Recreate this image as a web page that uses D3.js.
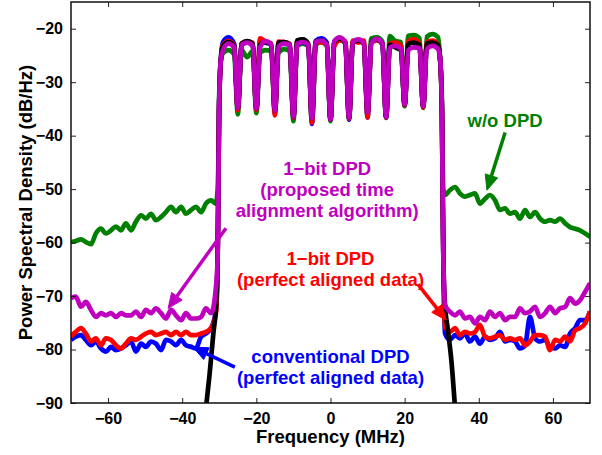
<!DOCTYPE html>
<html>
<head>
<meta charset="utf-8">
<script src="https://cdn.jsdelivr.net/npm/d3@7"></script>
<style>
  html, body { margin: 0; padding: 0; background: #fff; }
  svg { display: block; font-family: "Liberation Sans", Arial, Helvetica, sans-serif; font-weight: bold; }
</style>
</head>
<body>
<svg id="chart" width="602" height="455"></svg>
<script>
// Spektrum: frekvensnät utanför bandet (MHz)
const LEFT_FREQ = [-70, -68.7, -67.3, -66, -64.6, -63.3, -61.9, -60.6, -59.2, -57.9, -56.5, -55.2, -53.8, -52.5, -51.1,
  -49.8, -48.4, -47.1, -45.7, -44.4, -43, -41.7, -40.3, -39, -37.6, -36.3, -34.9, -33.6, -32.2, -30.9];
const RIGHT_FREQ = [30.9, 32.2, 33.6, 34.9, 36.3, 37.6, 39, 40.3, 41.7, 43, 44.4, 45.7, 47.1, 48.4, 49.8,
  51.1, 52.5, 53.8, 55.2, 56.5, 57.9, 59.2, 60.6, 61.9, 63.3, 64.6, 66, 67.3, 68.7, 70];

// Inom bandet: kant, och för varje bärare (h1, mitt, h2) samt dal mellan bärare
const IN_FREQ = [-30.45, -30.25, -30.05, -29.6,
  -29, -27.5, -26, -25, -24, -22.5, -21, -20, -19, -17.5, -16, -15, -14, -12.5, -11, -10,
  -9, -7.5, -6, -5, -4, -2.5, -1, 0, 1, 2.5, 4, 5, 6, 7.5, 9, 10,
  11, 12.5, 14, 15, 16, 17.5, 19, 20, 21, 22.5, 24, 25, 26, 27.5, 29,
  29.6, 30.05, 30.25, 30.45];

// w/o DPD
const GREEN_LEFT = [-59.9, -59.7, -59.4, -59.9, -60.3, -58.3, -57.4, -58.3, -57.7, -57.0, -57.7, -56.4, -57.7, -56.1, -54.9,
  -55.5, -54.6, -55.8, -55.2, -54.3, -53.3, -54.3, -53.3, -54.6, -53.9, -53.3, -54.3, -52.7, -52.1, -52.7];
const GREEN_IN = [-50, -45, -33, -26,
  -24.6, -24.0, -24.8, -36.0, -24.0, -25.3, -24.2, -35.8, -24.5, -24.0, -24.2, -35.6, -24.5, -23.8, -24.2, -37.3,
  -23.3, -22.8, -23.3, -37.2, -23.0, -22.5, -23.2, -37.3, -22.5, -21.8, -22.8, -36.9, -22.6, -22.2, -22.9, -36.0,
  -21.8, -21.6, -22.4, -36.7, -21.4, -22.3, -22.5, -34.5, -21.3, -21.2, -21.8, -34.8, -21.5, -21.0, -21.6,
  -26, -33, -45, -50];
const GREEN_RIGHT = [-51.1, -50.2, -49.6, -50.8, -51.4, -51.1, -50.8, -52.7, -51.8, -51.1, -52.1, -53.9, -53.6, -54.6, -54.3,
  -55.5, -53.9, -55.2, -54.3, -55.5, -56.1, -55.8, -56.1, -55.5, -56.4, -57.1, -57.4, -57.7, -58.3, -58.9];

// konventionell DPD
const BLUE_LEFT = [-78.2, -77.6, -77.3, -78.2, -79.2, -78.5, -79.8, -80.4, -79.5, -80.1, -79.8, -79.2, -78.5, -80.4, -78.9,
  -79.5, -78.5, -78.9, -80.1, -78.2, -78.5, -79.2, -78.2, -79.2, -79.5, -79.8, -77.6, -77.0, -76.0, -72.6];
const BLUE_IN = [-63, -50, -35, -26,
  -22.5, -21.6, -22.8, -35.0, -22.8, -22.6, -22.8, -35.0, -22.4, -22.6, -23.0, -35.8, -22.6, -22.8, -23.0, -36.6,
  -22.8, -22.6, -23.0, -37.8, -22.3, -21.8, -22.6, -37.0, -22.6, -21.8, -22.6, -37.0, -22.5, -22.2, -22.6, -36.6,
  -22.6, -22.0, -23.0, -36.6, -22.9, -22.8, -23.4, -34.3, -22.6, -22.5, -23.0, -34.6, -22.8, -22.6, -23.2,
  -26, -35, -50, -63];
const BLUE_RIGHT = [-77.0, -78.2, -77.3, -77.9, -77.0, -78.5, -77.6, -78.9, -77.6, -78.2, -77.9, -76.7, -78.5, -78.2, -78.5,
  -79.8, -79.2, -73.9, -77.9, -78.5, -78.2, -79.5, -79.8, -79.2, -79.5, -77.0, -76.0, -74.5, -74.5, -72.9];

// 1-bit DPD, perfekt alignerad
const RED_LEFT = [-77.6, -76.7, -76.0, -77.0, -78.5, -77.9, -79.2, -77.9, -78.2, -79.2, -79.8, -78.9, -77.9, -78.2, -77.6,
  -77.0, -76.7, -77.3, -77.0, -76.7, -77.3, -76.7, -77.3, -76.7, -77.3, -77.3, -77.0, -76.7, -76.0, -73.2];
const RED_IN = [-63, -50, -35, -26,
  -23.0, -22.3, -23.0, -35.2, -22.8, -22.4, -22.6, -35.2, -21.8, -22.4, -22.8, -36.2, -22.4, -22.5, -22.8, -36.6,
  -22.6, -22.4, -22.8, -37.6, -22.6, -22.5, -22.9, -37.0, -23.3, -22.2, -22.4, -36.8, -22.2, -22.6, -22.2, -36.6,
  -22.6, -22.2, -22.8, -36.6, -22.8, -22.6, -23.2, -34.3, -22.3, -22.0, -22.8, -34.7, -22.5, -22.2, -23.0,
  -26, -35, -50, -63];
const RED_RIGHT = [-75.7, -76.7, -76.0, -77.3, -76.7, -77.0, -76.7, -75.4, -77.6, -77.9, -77.6, -77.3, -78.2, -77.9, -78.2,
  -77.9, -79.2, -78.5, -77.3, -77.3, -77.6, -80.1, -78.2, -78.5, -77.6, -78.5, -76.4, -76.0, -75.1, -72.9];

// ursprunglig signal (svart)
const BLACK_LEFT_FREQ = [-33.6, -32.6, -31.6, -30.8];
const BLACK_LEFT = [-91, -84.5, -77, -71];
const BLACK_IN = [-63, -50, -35, -26,
  -23.2, -22.5, -23.2, -34.8, -22.8, -22.3, -22.8, -34.9, -23.0, -22.5, -22.9, -35.3, -22.6, -22.5, -23.0, -36.4,
  -22.2, -22.0, -22.8, -36.7, -22.4, -22.2, -22.8, -37.0, -22.5, -21.8, -22.8, -36.6, -22.6, -22.2, -22.8, -35.5,
  -22.6, -22.0, -22.8, -36.5, -23.0, -23.5, -24.0, -34.1, -22.8, -22.6, -23.0, -34.5, -22.8, -22.6, -23.0,
  -26, -35, -50, -63];
const BLACK_RIGHT_FREQ = [30.8, 31.6, 32.6, 33.6];
const BLACK_RIGHT = [-71, -76, -82, -91];

// 1-bit DPD, föreslagen tidsalignering
const MAGENTA_LEFT = [-70.4, -70.1, -72.0, -71.1, -72.6, -73.9, -73.2, -73.6, -73.2, -73.9, -73.2, -73.6, -73.6, -72.9, -73.9,
  -72.6, -73.2, -72.3, -73.2, -74.2, -72.6, -73.6, -74.5, -73.2, -74.2, -74.2, -73.9, -72.3, -73.2, -68.3];
const MAGENTA_IN = [-63, -50, -35, -26,
  -24.0, -22.8, -23.5, -34.8, -23.0, -22.6, -23.2, -34.9, -23.5, -22.3, -23.0, -35.3, -23.3, -22.8, -23.0, -36.4,
  -22.8, -22.5, -23.0, -36.7, -22.5, -22.2, -23.0, -37.0, -22.3, -21.6, -22.6, -36.6, -22.5, -22.0, -22.8, -35.5,
  -22.8, -21.9, -22.8, -36.5, -23.5, -23.2, -23.8, -34.1, -24.0, -23.5, -23.6, -34.5, -23.8, -23.2, -23.8,
  -26, -35, -50, -63];
const MAGENTA_RIGHT = [-71.7, -72.9, -73.6, -72.9, -74.2, -73.9, -75.1, -73.9, -74.5, -72.9, -73.9, -73.2, -74.5, -73.9, -73.9,
  -72.3, -73.2, -72.9, -72.0, -73.9, -73.2, -72.0, -73.2, -72.3, -72.0, -70.4, -71.4, -70.8, -69.2, -67.6];

const X_TICKS = [-60, -40, -20, 0, 20, 40, 60];
const Y_TICKS = [-90, -80, -70, -60, -50, -40, -30, -20];

const COLORS = { green: "#008000", blue: "#0000ff", red: "#ff0000", black: "#000000", magenta: "#bf00bf" };

function zip(f, v) { return f.map((x, i) => [x, v[i]]); }

const series = [
  { color: COLORS.green, pts: zip(LEFT_FREQ, GREEN_LEFT).concat(zip(IN_FREQ, GREEN_IN), zip(RIGHT_FREQ, GREEN_RIGHT)) },
  { color: COLORS.blue, pts: zip(LEFT_FREQ, BLUE_LEFT).concat(zip(IN_FREQ, BLUE_IN), zip(RIGHT_FREQ, BLUE_RIGHT)) },
  { color: COLORS.red, pts: zip(LEFT_FREQ, RED_LEFT).concat(zip(IN_FREQ, RED_IN), zip(RIGHT_FREQ, RED_RIGHT)) },
  { color: COLORS.black, pts: zip(BLACK_LEFT_FREQ, BLACK_LEFT).concat(zip(IN_FREQ, BLACK_IN), zip(BLACK_RIGHT_FREQ, BLACK_RIGHT)) },
  { color: COLORS.magenta, pts: zip(LEFT_FREQ, MAGENTA_LEFT).concat(zip(IN_FREQ, MAGENTA_IN), zip(RIGHT_FREQ, MAGENTA_RIGHT)) }
];

// Etiketter med pilar (datakoordinater)
const notes = [
  { color: COLORS.green, x: 47.1, y: -38.4, lines: ["w/o DPD"], from: [47.1, -39.4], to: [42.2, -50.2] },
  { color: COLORS.magenta, x: -0.9, y: -47.4, lines: ["1\u2212bit DPD", "(proposed time", "alignment algorithm)"], from: [-28.2, -57.3], to: [-43.8, -72.3] },
  { color: COLORS.red, x: 0, y: -64.1, lines: ["1\u2212bit DPD", "(perfect aligned data)"], from: [23.6, -67.8], to: [31.2, -74.5] },
  { color: COLORS.blue, x: 0, y: -82.6, lines: ["conventional DPD", "(perfect aligned data)"], from: [-25.8, -83.3], to: [-37.1, -79.55] }
];

const svg = d3.select("#chart");
const margin = { left: 71, right: 12, top: 2, bottom: 52 };
const W = 602, H = 455;

const x = d3.scaleLinear().domain([-70, 70]).range([margin.left, W - margin.right]);
const y = d3.scaleLinear().domain([-90, -15]).range([H - margin.bottom, margin.top]);

svg.append("defs").append("clipPath").attr("id", "plot-clip")
  .append("rect")
  .attr("x", x(-70)).attr("y", y(-15))
  .attr("width", x(70) - x(-70)).attr("height", y(-90) - y(-15));

const line = d3.line()
  .x(d => x(d[0]))
  .y(d => y(d[1]))
  .curve(d3.curveMonotoneX);

const gLines = svg.append("g").attr("clip-path", "url(#plot-clip)");
series.forEach(s => {
  gLines.append("path")
    .attr("d", line(s.pts))
    .attr("fill", "none")
    .attr("stroke", s.color)
    .attr("stroke-width", 4.7)
    .attr("stroke-linejoin", "round");
});

// Axlar med inåtriktade streck
const fontSize = 16;
const gx = svg.append("g").attr("transform", `translate(0,${y(-90)})`)
  .call(d3.axisBottom(x).tickValues(X_TICKS).tickSize(-5).tickPadding(10));
const gxt = svg.append("g").attr("transform", `translate(0,${y(-15)})`)
  .call(d3.axisTop(x).tickValues(X_TICKS).tickSize(-5).tickFormat(""));
const gy = svg.append("g").attr("transform", `translate(${x(-70)},0)`)
  .call(d3.axisLeft(y).tickValues(Y_TICKS).tickSize(-5).tickPadding(8));
const gyr = svg.append("g").attr("transform", `translate(${x(70)},0)`)
  .call(d3.axisRight(y).tickValues(Y_TICKS).tickSize(-5).tickFormat(""));

[gx, gxt, gy, gyr].forEach(g => {
  g.select(".domain").remove();
  g.selectAll(".tick line").attr("stroke", "#222").attr("stroke-width", 1);
  g.selectAll(".tick text")
    .attr("fill", "#000")
    .style("font-family", "'Liberation Sans', Arial, sans-serif")
    .style("font-weight", "bold")
    .style("font-size", `${fontSize}px`);
});

svg.append("rect")
  .attr("x", x(-70)).attr("y", y(-15))
  .attr("width", x(70) - x(-70)).attr("height", y(-90) - y(-15))
  .attr("fill", "none").attr("stroke", "#111").attr("stroke-width", 1.5);

svg.append("text")
  .attr("x", (x(-70) + x(70)) / 2)
  .attr("y", 443)
  .attr("text-anchor", "middle")
  .style("font-size", "18.5px")
  .text("Frequency (MHz)");

svg.append("text")
  .attr("transform", `translate(32,${(y(-90) + y(-15)) / 2}) rotate(-90)`)
  .attr("text-anchor", "middle")
  .style("font-size", "18.5px")
  .text("Power Spectral Density (dB/Hz)");

// Annoteringar
const gNotes = svg.append("g");
notes.forEach(n => {
  const t = gNotes.append("text")
    .attr("x", x(n.x))
    .attr("y", y(n.y))
    .attr("text-anchor", "middle")
    .attr("fill", n.color)
    .style("font-size", "18.5px");
  n.lines.forEach((ln, i) => {
    t.append("tspan").attr("x", x(n.x)).attr("dy", i === 0 ? 0 : 21).text(ln);
  });

  const x0 = x(n.from[0]), y0 = y(n.from[1]);
  const x1 = x(n.to[0]), y1 = y(n.to[1]);
  const ang = Math.atan2(y1 - y0, x1 - x0);
  const headLen = 15, headW = 6.5;
  const bx = x1 - headLen * Math.cos(ang), by = y1 - headLen * Math.sin(ang);
  gNotes.append("line")
    .attr("x1", x0).attr("y1", y0).attr("x2", bx).attr("y2", by)
    .attr("stroke", n.color).attr("stroke-width", 3.5);
  const px = -Math.sin(ang), py = Math.cos(ang);
  gNotes.append("path")
    .attr("d", `M${x1},${y1}L${bx + headW * px},${by + headW * py}L${bx - headW * px},${by - headW * py}Z`)
    .attr("fill", n.color)
    .attr("stroke", n.color)
    .attr("stroke-width", 1)
    .attr("stroke-linejoin", "round");
});
</script>
</body>
</html>
